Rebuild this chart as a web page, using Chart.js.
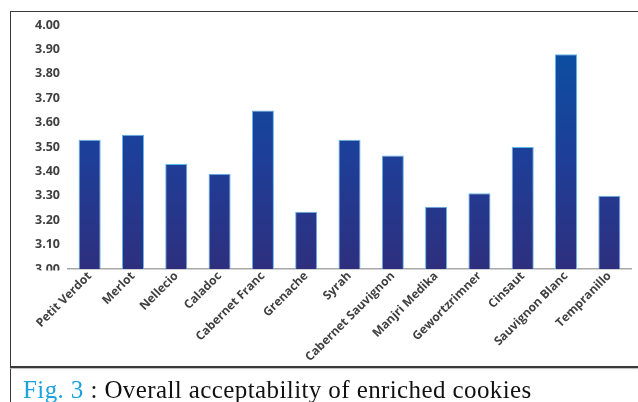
<!DOCTYPE html>
<html>
<head>
<meta charset="utf-8">
<script src="https://cdn.jsdelivr.net/npm/chart.js@4.4.1/dist/chart.umd.min.js"></script>
<style>
  html, body { margin: 0; padding: 0; background: #fff; }
  body { width: 638px; height: 402px; position: relative; overflow: hidden; }
  #frame {
    position: absolute; left: 10px; top: 11px; width: 628px; height: 391px;
    border-left: 1.5px solid #3a3a3a; border-top: 1.5px solid #3a3a3a;
    box-sizing: border-box;
  }
  #rule {
    position: absolute; left: 10px; top: 366px; width: 628px; height: 0;
    border-top: 2px solid #3a3a3a; box-shadow: 0 1px 1px #bbb;
  }
  #chartBox { position: absolute; left: 12px; top: 14px; width: 626px; height: 355px; }
  #caption {
    position: absolute; left: 23px; top: 375px; white-space: nowrap;
    font-family: "Liberation Serif", "DejaVu Serif", serif; font-size: 25px;
    letter-spacing: 0.4px; line-height: 30px; color: #111;
  }
  #caption .fig { color: #1ba3e0; }
</style>
</head>
<body>
<div id="frame"></div>
<div id="chartBox"><canvas id="c" width="626" height="355"></canvas></div>
<div id="rule"></div>
<div id="caption"><span class="fig">Fig. 3</span> : Overall acceptability of enriched cookies</div>
<script>
// Grape varieties used in the cookies and their overall acceptability scores
const varieties = [
  "Petit Verdot", "Merlot", "Nellecio", "Caladoc", "Cabernet Franc", "Grenache",
  "Syrah", "Cabernet Sauvignon", "Manjri Medika", "Gewortzrimner", "Cinsaut",
  "Sauvignon Blanc", "Tempranillo"
];
const acceptability = [3.53, 3.55, 3.43, 3.39, 3.65, 3.235, 3.53, 3.465, 3.255, 3.31, 3.50, 3.88, 3.30];
const yTicks = [3.00, 3.10, 3.20, 3.30, 3.40, 3.50, 3.60, 3.70, 3.80, 3.90, 4.00];

const labelFont = "'Open Sans', 'Liberation Sans', sans-serif";

// vertical blue gradient for each bar
function barGradient(ctx) {
  const chart = ctx.chart;
  const area = chart.chartArea;
  if (!area) return "#1a4a9a";
  const el = ctx.element;
  const top = el && el.y != null ? el.y : area.top;
  const bottom = area.bottom;
  const g = chart.ctx.createLinearGradient(0, top, 0, bottom);
  g.addColorStop(0, "#0752a3");
  g.addColorStop(0.55, "#1e3e98");
  g.addColorStop(1, "#2e2f7e");
  return g;
}

// the lowest tick label sits partly behind the label band
const clipLowLabel = {
  id: "clipLowLabel",
  afterDraw(chart) {
    const ctx = chart.ctx;
    const y = chart.scales.y.getPixelForValue(3.00);
    ctx.save();
    ctx.fillStyle = "#fff";
    ctx.fillRect(0, y + 1.5, chart.chartArea.left - 2, 7);
    ctx.restore();
  }
};

new Chart(document.getElementById("c"), {
  type: "bar",
  data: {
    labels: varieties,
    datasets: [{
      data: acceptability,
      backgroundColor: barGradient,
      borderColor: "#5fb8ec",
      borderWidth: 1,
      borderSkipped: "bottom",
      categoryPercentage: 1,
      barPercentage: 0.51
    }]
  },
  options: {
    responsive: false,
    animation: false,
    devicePixelRatio: 1,
    layout: { padding: { top: 11, right: 7, left: 0, bottom: 0 } },
    plugins: { legend: { display: false }, tooltip: { enabled: false } },
    scales: {
      x: {
        grid: { display: false, drawTicks: false },
        border: { display: true, color: "#a8a8a8", width: 1.5 },
        ticks: {
          autoSkip: false, maxRotation: 45, minRotation: 45, padding: 0,
          color: "#404040",
          font: { family: labelFont, size: 12, weight: "bold" }
        },
        afterFit(scale) { scale.height = 100; }
      },
      y: {
        min: 3.0, max: 4.0,
        afterBuildTicks(scale) { scale.ticks = yTicks.map(v => ({ value: v })); },
        grid: { display: false, drawTicks: false },
        border: { display: false },
        ticks: {
          padding: 8,
          color: "#404040",
          font: { family: labelFont, size: 12.5, weight: "bold" },
          callback: v => Number(v).toFixed(2)
        },
        afterFit(scale) {
          scale.width = 56;
          scale.paddingTop = 0;
          scale.paddingBottom = 0;
        }
      }
    }
  },
  plugins: [clipLowLabel]
});
</script>
</body>
</html>
